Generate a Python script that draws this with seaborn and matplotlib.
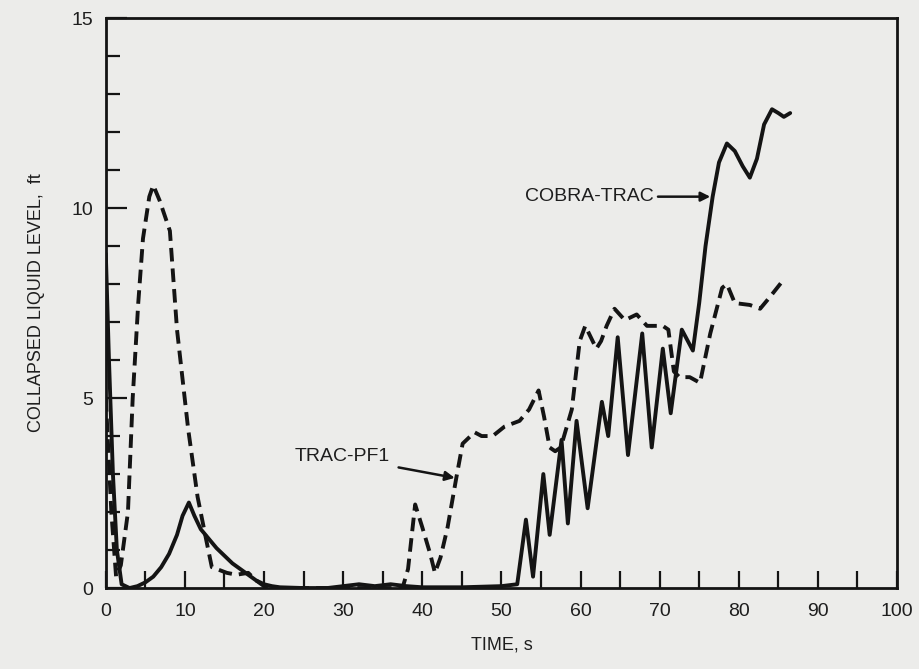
import matplotlib
matplotlib.use("Agg")
import matplotlib.pyplot as plt
import seaborn as sns
import pandas as pd
from matplotlib.ticker import MultipleLocator

# COBRA-TRAC (solid)
cobra_t = [0, 0.4, 0.9, 1.4, 2, 3, 4, 5, 6, 7, 8, 9, 9.7, 10.5, 11.2, 12, 13, 14, 15, 16, 17, 18, 19, 20,
           21, 22, 25, 28, 30, 32, 34, 36, 38, 40, 45, 50, 52, 53.1, 54, 55.3, 56.1, 57.6, 58.4, 59.5, 60.9,
           62.7, 63.5, 64.7, 66, 67.8, 69, 70.4, 71.4, 72.8, 74.2, 75, 75.8, 76.7, 77.5, 78.5, 79.5, 80.5,
           81.4, 82.3, 83.2, 84.2, 85, 85.7, 86.5]
cobra_lvl = [8.8, 6.0, 3.0, 1.0, 0.1, 0, 0.05, 0.15, 0.3, 0.55, 0.9, 1.4, 1.9, 2.25, 1.9, 1.55, 1.3, 1.05,
             0.85, 0.65, 0.5, 0.35, 0.2, 0.1, 0.05, 0.02, 0, 0, 0.05, 0.1, 0.05, 0.1, 0.05, 0.02, 0.02, 0.05,
             0.1, 1.8, 0.3, 3.0, 1.4, 3.9, 1.7, 4.4, 2.1, 4.9, 4.0, 6.6, 3.5, 6.7, 3.7, 6.3, 4.6, 6.8, 6.25,
             7.5, 9.0, 10.3, 11.2, 11.7, 11.5, 11.1, 10.8, 11.3, 12.2, 12.6, 12.5, 12.4, 12.5]

# TRAC-PF1 (dashed)
trac_t = [0, 0.7, 1.3, 1.9, 2.8, 3.4, 4.1, 4.7, 5.5, 6.0, 6.8, 8.1, 9.0, 10.4, 11.6, 12.7, 13.4, 15.3,
          16.5, 18, 19, 20, 22, 30, 37.5, 38.2, 39.1, 40, 41, 41.6, 42.3, 43.2, 44.3, 45.1, 46.6, 47.5, 48.9,
          50.4, 52.3, 53.5, 54.7, 55.4, 56.1, 56.8, 57.5, 58.9, 59.9, 60.6, 61.3, 62, 62.6, 63.3, 64.3, 65.6,
          67.1, 68.4, 70.4, 71.1, 71.8, 72.5, 73.8, 75.1, 75.6, 76.4, 77.9, 78.5, 79.5, 81.4, 82.7, 83.9, 85.8]
trac_lvl = [5.0, 2.0, 0.3, 0.6, 2.0, 5.0, 7.5, 9.2, 10.3, 10.6, 10.2, 9.4, 6.8, 4.2, 2.4, 1.26, 0.55, 0.4,
            0.35, 0.4, 0.2, 0.05, 0, 0, 0, 0.5, 2.2, 1.6, 0.9, 0.4, 0.8, 1.6, 2.9, 3.8, 4.1, 4.0, 4.0, 4.25,
            4.4, 4.7, 5.2, 4.5, 3.7, 3.6, 3.7, 4.7, 6.5, 6.9, 6.6, 6.3, 6.5, 6.9, 7.35, 7.05, 7.2, 6.9, 6.9,
            6.8, 5.7, 5.55, 5.55, 5.4, 5.9, 6.7, 7.9, 8.0, 7.5, 7.45, 7.35, 7.65, 8.15]

x_ticks = [0, 10, 20, 30, 40, 50, 60, 70, 80, 90, 100]
y_ticks = [0, 5, 10, 15]

sns.set_theme(style="white")
plt.rcParams['font.family'] = ['Liberation Sans', 'DejaVu Sans']

bg = "#ececea"
ink = "#141414"
fig = plt.figure(figsize=(9.2, 6.69), dpi=100, facecolor=bg)
ax = fig.add_axes([0.115, 0.121, 0.86, 0.852], facecolor=bg)

df_c = pd.DataFrame({"t": cobra_t, "lvl": cobra_lvl})
df_t = pd.DataFrame({"t": trac_t, "lvl": trac_lvl})
sns.lineplot(data=df_c, x="t", y="lvl", ax=ax, color=ink, linewidth=2.8,
             sort=False, estimator=None, solid_joinstyle="round", solid_capstyle="round")
sns.lineplot(data=df_t, x="t", y="lvl", ax=ax, color=ink, linewidth=2.8,
             sort=False, estimator=None, linestyle=(0, (3.5, 1.8)), dash_joinstyle="round")

ax.set_xlim(0, 100)
ax.set_ylim(0, 15)
ax.set_xticks(x_ticks)
ax.set_yticks(y_ticks)
ax.xaxis.set_minor_locator(MultipleLocator(5))
ax.yaxis.set_minor_locator(MultipleLocator(1))
ax.tick_params(axis="x", which="both", direction="in", length=12, width=1.6, color=ink,
               labelsize=14, pad=11, labelcolor="#1e1e1e", bottom=True)
ax.tick_params(axis="y", which="major", direction="in", length=15, width=1.6, color=ink,
               labelsize=14, pad=9, labelcolor="#1e1e1e", left=True)
ax.tick_params(axis="y", which="minor", direction="in", length=10, width=1.6, color=ink, left=True)
for s in ax.spines.values():
    s.set_linewidth(2.0)
    s.set_color(ink)

ax.set_xlabel("TIME, s", fontsize=13, color="#1e1e1e", labelpad=12)
ax.set_ylabel("COLLAPSED LIQUID LEVEL,  ft", fontsize=13, color="#1e1e1e", labelpad=19)

ax.annotate("COBRA-TRAC", xy=(76.4, 10.3), xytext=(69.2, 10.3), fontsize=14, color="#1e1e1e",
            ha="right", va="center",
            arrowprops=dict(arrowstyle="-|>", color=ink, lw=1.8, shrinkA=1, shrinkB=0,
                            mutation_scale=14))
ax.annotate("TRAC-PF1", xy=(44.1, 2.9), xytext=(35.9, 3.45), fontsize=14, color="#1e1e1e",
            ha="right", va="center",
            arrowprops=dict(arrowstyle="-|>", color=ink, lw=1.8, shrinkA=4, shrinkB=0,
                            mutation_scale=14))

fig.savefig("out.png", dpi=100, facecolor=bg)
